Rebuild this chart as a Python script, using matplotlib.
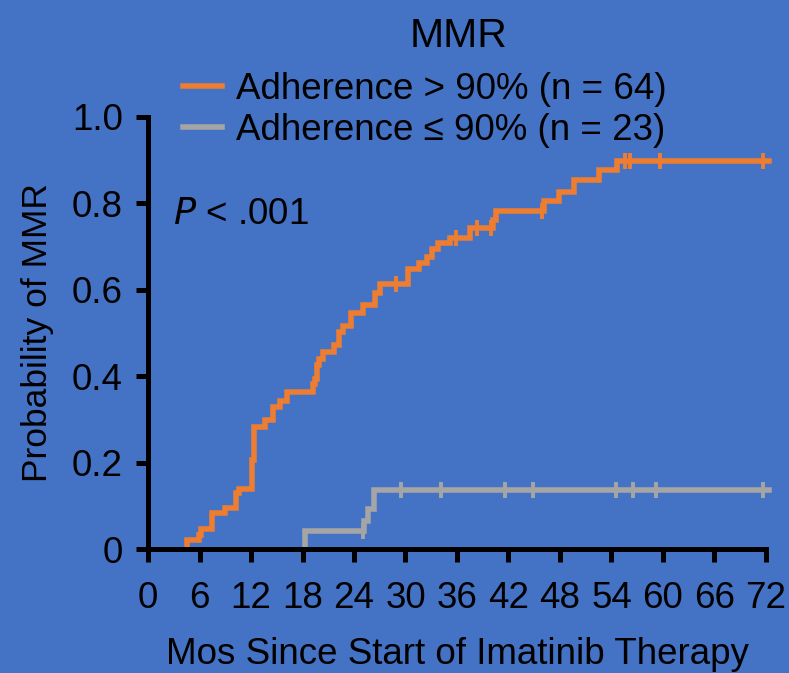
import numpy as np
import matplotlib
matplotlib.use("Agg")
import matplotlib.pyplot as plt

plt.rcParams['font.family'] = ['Liberation Sans', 'DejaVu Sans']

# Kaplan-Meier style cumulative probability of MMR
hi_times = [4.6, 5.9, 6.2, 7.4, 9.0, 10.3, 10.6, 12.1, 12.3, 12.4, 13.6, 14.6, 15.4,
            16.2, 19.2, 19.5, 19.7, 19.9, 20.4, 21.7, 22.2, 22.7, 23.7, 25.1, 26.5,
            27.0, 30.3, 31.6, 32.5, 33.1, 33.8, 35.2, 37.5, 40.2, 40.5, 46.1, 47.9,
            49.6, 52.5, 54.7, 72.3]
hi_probs = [0.022, 0.032, 0.046, 0.084, 0.096, 0.129, 0.140, 0.206, 0.260, 0.283, 0.299,
            0.328, 0.343, 0.363, 0.383, 0.393, 0.426, 0.439, 0.457, 0.472, 0.503, 0.516,
            0.547, 0.565, 0.592, 0.613, 0.647, 0.661, 0.675, 0.694, 0.709, 0.721, 0.742,
            0.762, 0.783, 0.806, 0.827, 0.853, 0.877, 0.899, 0.899]
hi_censor = [28.9, 35.9, 38.3, 40.0, 45.9, 55.6, 56.2, 59.6, 71.7]

lo_times = [18.3, 25.2, 25.6, 26.3, 72.3]
lo_probs = [0.042, 0.065, 0.092, 0.137, 0.137]
lo_censor = [25.1, 29.5, 34.1, 41.6, 44.8, 54.5, 56.5, 59.2, 71.6]

labels = ['Adherence > 90% (n = 64)', 'Adherence \u2264 90% (n = 23)']
xticks = list(range(0, 73, 6))
yticks = [0, 0.2, 0.4, 0.6, 0.8, 1.0]
ytick_labels = ['0', '0.2', '0.4', '0.6', '0.8', '1.0']

bg = '#4472C4'
orange = '#ED7D31'
gray = '#A5A5A5'
fs = 26.5


def level_at(times, probs, t):
    i = np.searchsorted(times, t, side='right') - 1
    return probs[max(i, 0)]


fig = plt.figure(figsize=(7.89, 6.73), dpi=100, facecolor=bg)
ax = fig.add_axes([0.1876, 0.1842, 0.7832, 0.642])
ax.set_facecolor(bg)

for times, probs, cens, col, lab in [(hi_times, hi_probs, hi_censor, orange, labels[0]),
                                      (lo_times, lo_probs, lo_censor, gray, labels[1])]:
    xs = [times[0]] + times
    ys = [0] + probs
    ax.step(xs, ys, where='post', color=col, lw=4, label=lab, clip_on=False,
            solid_joinstyle='miter')
    cy = [level_at(times, probs, t) for t in cens]
    ax.plot(cens, cy, ls='none', marker='|', ms=12, mew=2.8, color=col, clip_on=False)

ax.set_xlim(0, 72)
ax.set_ylim(0, 1.0)
ax.set_xticks(xticks)
ax.set_yticks(yticks)
ax.set_yticklabels(ytick_labels)
for s in ['top', 'right']:
    ax.spines[s].set_visible(False)
for s in ['left', 'bottom']:
    ax.spines[s].set_linewidth(3.6)
    ax.spines[s].set_color('black')
ax.tick_params(axis='both', direction='out', length=9, width=3.6, labelsize=fs,
               colors='black')
ax.tick_params(axis='x', pad=14)
ax.tick_params(axis='y', pad=9)

ax.set_xlabel('Mos Since Start of Imatinib Therapy', fontsize=fs, labelpad=15)
ax.set_ylabel('Probability of MMR', fontsize=25.5, labelpad=13)

ax.text(0.04, 0.775, '$P$ < .001', transform=ax.transAxes, fontsize=fs,
        ha='left', va='center')
fig.text(0.581, 0.946, 'MMR', fontsize=29.5, ha='center', va='center')

leg = ax.legend(loc='upper left', bbox_to_anchor=(0.232, 0.893),
                bbox_transform=fig.transFigure, frameon=False, fontsize=fs,
                handlelength=1.05, handletextpad=0.38, labelspacing=0.15,
                borderaxespad=0, borderpad=0)
for h in leg.get_lines():
    h.set_linewidth(4)

fig.savefig('out.png', dpi=100, facecolor=bg)
